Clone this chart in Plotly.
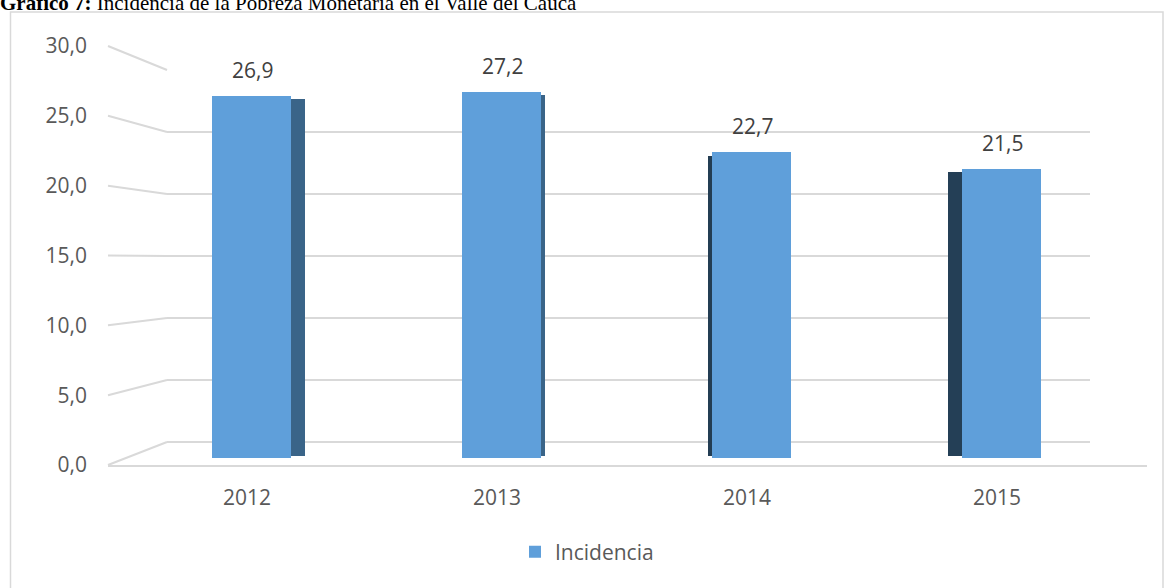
import plotly.graph_objects as go

categories = ["2012", "2013", "2014", "2015"]
incidencia = [26.9, 27.2, 22.7, 21.5]
label_text = ["26,9", "27,2", "22,7", "21,5"]
tick_values = [0, 5, 10, 15, 20, 25, 30]
tick_labels = ["0,0", "5,0", "10,0", "15,0", "20,0", "25,0", "30,0"]

# 3D look: side face geometry per bar (offset/width in category units)
side_offset = [0.17, 0.17, -0.156, -0.196]
side_width = [0.062, 0.022, 0.03, 0.07]
side_color = ["#3a6488", "#3a6488", "#233d53", "#243f56"]

W, H = 1174, 588

def px(x):
    return x / W

def py(y):
    return 1 - y / H

FRONT = "#5f9fda"
GRID = "#d9d9d9"
TXT = "#595959"
FONT = "Open Sans"

fig = go.Figure()

# invisible trace to hold the back-wall subplot
fig.add_trace(go.Scatter(x=[0], y=[0], mode="markers", marker=dict(opacity=0),
                         showlegend=False, hoverinfo="skip", xaxis="x", yaxis="y"))

# side faces
fig.add_trace(go.Bar(x=categories, y=[v - 0.4 for v in incidencia], base=0.15,
                     offset=side_offset, width=side_width,
                     marker=dict(color=side_color, line=dict(width=0)),
                     showlegend=False, hoverinfo="skip", xaxis="x2", yaxis="y2"))
# front faces
fig.add_trace(go.Bar(x=categories, y=incidencia, name="Incidencia",
                     offset=-0.14, width=0.316,
                     marker=dict(color=FRONT, line=dict(width=0)),
                     xaxis="x2", yaxis="y2"))

# invisible trace for the label/floor subplot
fig.add_trace(go.Scatter(x=categories, y=[0] * len(categories), mode="markers",
                         marker=dict(opacity=0), showlegend=False, hoverinfo="skip",
                         xaxis="x3", yaxis="y3"))

annotations = []
for i, (v, t) in enumerate(zip(incidencia, label_text)):
    annotations.append(dict(x=i + 0.02, y=v, xref="x2", yref="y2", text=t,
                            showarrow=False, yshift=26,
                            font=dict(family=FONT, size=21, color="#404040")))

annotations.append(dict(x=px(-2), y=py(17), xref="paper", yref="paper",
                        xanchor="left", yanchor="bottom", showarrow=False,
                        text="<b>Gráfico 7:</b> Incidencia de la Pobreza Monetaria en el Valle del Cauca",
                        font=dict(family="Liberation Serif", size=21, color="#000000")))

shapes = [dict(type="rect", xref="paper", yref="paper",
               x0=px(10.5), x1=px(1163), y0=py(12), y1=py(600),
               line=dict(color=GRID, width=1.5), layer="below")]

# side-wall diagonal grid lines
for v in tick_values:
    y_front = 465 - v * (465 - 46) / 30
    y_back = 442 - v * (442 - 70) / 30
    shapes.append(dict(type="line", xref="paper", yref="paper",
                       x0=px(108), y0=py(y_front), x1=px(167), y1=py(y_back),
                       line=dict(color=GRID, width=2), layer="below"))

bar_lo = (458 - 465) / 13.46
bar_hi = (458 - 46) / 13.46
cat_range = [(108 - 247) / 250, (1147 - 247) / 250]
dom_x = [px(108), px(1147)]
dom_y = [py(465), py(46)]

fig.update_layout(
    width=W, height=H, autosize=False,
    margin=dict(l=0, r=0, t=0, b=0, pad=0),
    paper_bgcolor="white", plot_bgcolor="rgba(0,0,0,0)",
    bargap=0,
    # back wall
    xaxis=dict(domain=[px(167), px(1090)], range=[0, 1], visible=False,
               fixedrange=True, automargin=False),
    yaxis=dict(domain=[py(442), py(70)], range=[0, 30], dtick=5, tick0=0,
               showgrid=True, gridcolor=GRID, gridwidth=2, showticklabels=False,
               zeroline=True, zerolinecolor=GRID, zerolinewidth=2,
               showline=False, ticks="", anchor="x", automargin=False),
    # bars
    xaxis2=dict(domain=dom_x, type="category", range=cat_range, visible=False,
                anchor="y2", automargin=False),
    yaxis2=dict(domain=dom_y, range=[bar_lo, bar_hi], visible=False, anchor="x2",
                automargin=False),
    # labels + floor
    xaxis3=dict(domain=dom_x, type="category", range=cat_range,
                showline=True, linecolor=GRID, linewidth=2, showgrid=False,
                ticks="", ticklabelstandoff=13, anchor="y3", automargin=False,
                tickfont=dict(family=FONT, size=21, color=TXT)),
    yaxis3=dict(domain=dom_y, range=[0, 30], tickvals=tick_values,
                ticktext=tick_labels, showgrid=False, zeroline=False, showline=False,
                ticks="", ticklabelstandoff=20, anchor="x3", automargin=False,
                tickfont=dict(family=FONT, size=21, color=TXT)),
    legend=dict(orientation="h", x=0.5, xanchor="center", y=py(552), yanchor="middle",
                font=dict(family=FONT, size=21, color=TXT)),
    annotations=annotations,
    shapes=shapes,
    showlegend=True,
)

fig.write_html("out.html", config={"displayModeBar": False},
               post_script="document.body.style.margin='0';document.body.style.overflow='hidden';")
